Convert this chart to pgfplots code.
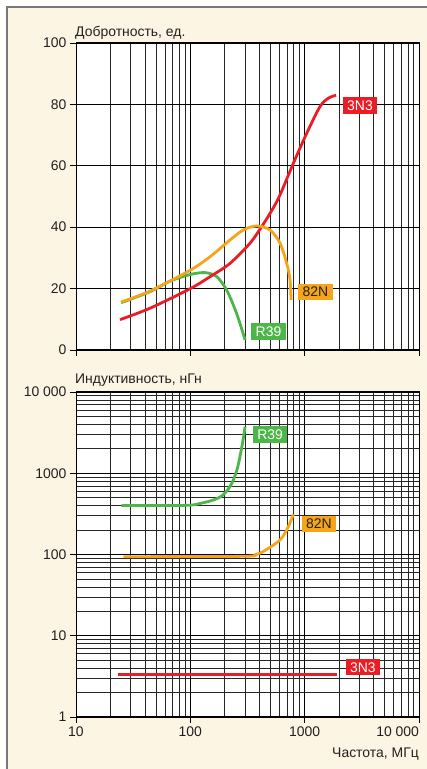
\documentclass[border=0pt]{standalone}
\usepackage{fontspec}
\setmainfont{Liberation Sans}
\usepackage{pgfplots}
\pgfplotsset{compat=1.18}

\definecolor{cream}{RGB}{253,245,228}
\definecolor{cframe}{RGB}{120,120,120}
\definecolor{cred}{RGB}{236,28,36}
\definecolor{corange}{RGB}{246,164,26}
\definecolor{cgreen}{RGB}{77,182,72}
\definecolor{txt}{RGB}{35,31,32}

\newcommand{\lblfont}{\fontsize{14}{14}\selectfont}

\begin{document}
\begin{tikzpicture}
\useasboundingbox (0bp,0bp) rectangle (427bp,769bp);
\fill[white] (0bp,0bp) rectangle (427bp,769bp);
\fill[cream] (7bp,0bp) rectangle (427bp,762bp);
\draw[cframe, line width=2.5bp] (7bp,0bp) -- (7bp,762bp) -- (427bp,762bp);

% quality factor
\begin{axis}[
    at={(76bp,419bp)}, anchor=south west,
    scale only axis, width=343bp, height=307bp,
    xmode=log, xmin=10, xmax=10000,
    xtick={10,100,1000,10000}, xticklabels={},
    ymin=0, ymax=100, ytick={0,20,40,60,80,100},
    yticklabels={0,20,40,60,80,100},
    xmajorgrids, xminorgrids, ymajorgrids,
    axis background/.style={fill=white},
    axis line style={line width=1bp, black},
    major grid style={line width=0.6bp, black},
    minor grid style={line width=0.6bp, black!85},
    tick align=outside, major tick length=6bp, minor tick length=0bp,
    tick style={line width=0.8bp, black},
    xtick pos=bottom, ytick pos=left,
    tick label style={font=\lblfont, text=txt},
  ]
  \addplot[line width=2.8bp, smooth, no markers, cgreen] coordinates {
    (24.8,15.4) (44.4,19.0) (66.4,22.4) (100,24.6) (134.6,25.2)
    (170,23.9) (208,19.5) (254,11.9) (301,3.3)};
  \addplot[line width=2.8bp, smooth, no markers, cred] coordinates {
    (24.3,9.9) (44.4,13.6) (100,20.0) (149,23.9) (222,28.2) (333,34.8)
    (421,40.2) (498,44.5) (600,50.0) (796,60.8) (1042,70.6) (1363,79.3)
    (1611,82.0) (1884,83.0)};
  \addplot[line width=2.8bp, smooth, no markers, corange] coordinates {
    (24.8,15.6) (44.4,19.2) (100,26.0) (149,30.4) (222,35.8) (291,39.1)
    (381,40.4) (498,39.1) (609,34.8) (697,28.2) (745,22.8) (760,16.3)};
  \node[font=\lblfont, inner xsep=4.5bp, inner ysep=0bp, minimum height=16.5bp,
    fill=cred, text=white] at (axis cs:3050,79.7) {3N3};
  \node[font=\lblfont, inner xsep=4.5bp, inner ysep=0bp, minimum height=16.5bp,
    fill=corange, text=txt] at (axis cs:1239,18.9) {82N};
  \node[font=\lblfont, inner xsep=4.5bp, inner ysep=0bp, minimum height=16.5bp,
    fill=cgreen, text=white] at (axis cs:483,6.1) {R39};
\end{axis}

% inductance
\begin{axis}[
    at={(76bp,52bp)}, anchor=south west,
    scale only axis, width=343bp, height=325bp,
    xmode=log, xmin=10, xmax=10000,
    xtick={10,100,1000,10000},
    xticklabels={10,100,1000,\makebox[0pt][r]{10 000}},
    ymode=log, ymin=1, ymax=10000, ytick={1,10,100,1000,10000},
    yticklabels={1,10,100,1000,10 000},
    grid=both,
    axis background/.style={fill=white},
    axis line style={line width=1bp, black},
    major grid style={line width=0.6bp, black},
    minor grid style={line width=0.6bp, black!85},
    tick align=outside, major tick length=6bp, minor tick length=0bp,
    tick style={line width=0.8bp, black},
    xtick pos=bottom, ytick pos=left,
    tick label style={font=\lblfont, text=txt},
  ]
  \addplot[line width=2.8bp, no markers, cred] coordinates {(23.4,3.3) (1932,3.3)};
  \addplot[line width=2.8bp, smooth, no markers, cgreen] coordinates {
    (25,400) (90,402) (122,425) (160,470) (190,530) (215,640) (238,826)
    (260,1200) (280,2000) (292,2800) (301,3740)};
  \addplot[line width=2.8bp, smooth, no markers, corange] coordinates {
    (25.9,94) (291,95) (370,100) (435,109) (609,151) (720,220) (796,313)};
  \node[font=\lblfont, inner xsep=4.5bp, inner ysep=0bp, minimum height=16.5bp,
    fill=cred, text=white] at (axis cs:3228,4.1) {3N3};
  \node[font=\lblfont, inner xsep=4.5bp, inner ysep=0bp, minimum height=16.5bp,
    fill=corange, text=txt] at (axis cs:1333,239) {82N};
  \node[font=\lblfont, inner xsep=4.5bp, inner ysep=0bp, minimum height=16.5bp,
    fill=cgreen, text=white] at (axis cs:498,2985) {R39};
\end{axis}

\node[anchor=base west, inner sep=0pt, text=txt, font=\lblfont]
  at (75bp,732bp) {Добротность, ед.};
\node[anchor=base west, inner sep=0pt, text=txt, font=\lblfont]
  at (75bp,385.5bp) {Индуктивность, нГн};
\node[anchor=base east, inner sep=0pt, text=txt, font=\lblfont]
  at (419bp,12bp) {Частота, МГц};
\end{tikzpicture}
\end{document}
